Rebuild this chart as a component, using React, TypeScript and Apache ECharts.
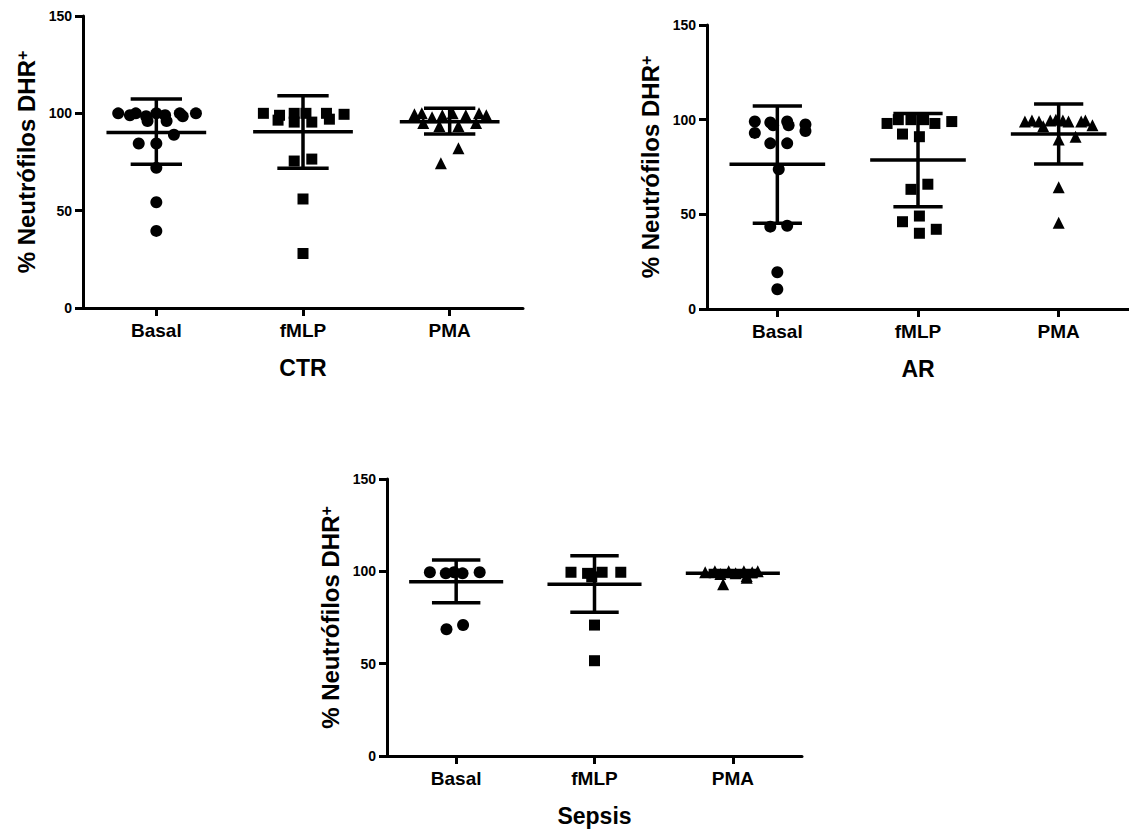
import React, { useEffect, useRef } from "react";
import * as echarts from "echarts";

// ---------- DATA ----------
const categories = ["Basal", "fMLP", "PMA"];
const yTicks = [0, 50, 100, 150];
const panelTitles = ["CTR", "AR", "Sepsis"];
const yAxisTitle = "% Neutrófilos DHR";

// CTR
const ctrBasalValues = [100, 99, 100, 98.5, 96, 100, 99, 96, 100, 98.5, 100, 89, 84.5, 84.5, 72, 54.3, 39.6];
const ctrBasalJitter = [-0.26, -0.18, -0.14, -0.07, -0.06, 0, 0.06, 0.07, 0.16, 0.18, 0.27, 0.12, -0.12, 0, 0, 0, 0];
const ctrFmlpValues = [100, 99, 96.5, 100, 95.5, 100, 95.5, 100, 97, 99.5, 75.5, 76.5, 56, 28];
const ctrFmlpJitter = [-0.27, -0.16, -0.17, -0.06, -0.06, 0.02, 0.06, 0.16, 0.18, 0.28, -0.06, 0.06, 0, 0];
const ctrPmaValues = [99.5, 100, 98, 99, 100, 99, 100, 99, 95, 93.5, 93.5, 95, 82, 74.3];
const ctrPmaJitter = [-0.24, -0.19, -0.12, -0.05, 0.02, 0.11, 0.2, 0.25, -0.18, -0.07, 0.06, 0.18, 0.06, -0.06];
const ctrMean = [90.2, 90.6, 95.7];
const ctrUpper = [107.4, 109, 102.6];
const ctrLower = [73.8, 71.8, 89.4];

// AR
const arBasalValues = [99, 98.5, 97, 99, 97, 97.5, 93, 94, 87.5, 87.5, 73.8, 43.5, 44, 19.4, 10.4];
const arBasalJitter = [-0.16, -0.05, -0.03, 0.07, 0.08, 0.2, -0.16, 0.2, -0.05, 0.07, 0.01, -0.05, 0.07, 0, 0];
const arFmlpValues = [98, 100, 100, 100, 98, 99, 92.4, 91, 63.2, 65.9, 46.1, 49.1, 42.1, 40];
const arFmlpJitter = [-0.22, -0.14, -0.05, 0.04, 0.12, 0.24, -0.11, 0.01, -0.05, 0.07, -0.11, 0.01, 0.13, 0.01];
const arPmaValues = [99, 99.5, 99, 96.5, 99.5, 100, 99.5, 99, 99, 99.5, 97, 89.5, 91, 64.3, 45.6];
const arPmaJitter = [-0.24, -0.19, -0.14, -0.11, -0.06, -0.02, 0.03, 0.07, 0.16, 0.19, 0.24, 0, 0.12, 0, 0];
const arMean = [76.4, 78.7, 92.4];
const arUpper = [107.2, 103.3, 108.3];
const arLower = [45.3, 54, 76.6];

// Sepsis
const sepBasalValues = [99.5, 98.9, 99.5, 98.9, 99.5, 68.6, 70.9];
const sepBasalJitter = [-0.19, -0.075, -0.015, 0.046, 0.17, -0.07, 0.05];
const sepFmlpValues = [99.5, 98.9, 97, 99.5, 99.5, 70.9, 51.6];
const sepFmlpJitter = [-0.17, -0.05, -0.02, 0.055, 0.19, 0, 0];
const sepPmaValues = [99.5, 100, 98.5, 100, 99, 100, 97.5, 99.5, 100, 93, 96.5];
const sepPmaJitter = [-0.2, -0.13, -0.09, -0.03, 0.02, 0.08, 0.1, 0.14, 0.18, -0.07, 0.1];
const sepMean = [94.4, 93, 98.9];
const sepUpper = [106.1, 108.5, 100.5];
const sepLower = [83, 77.8, 97.2];

// ---------- LAYOUT / STYLE ----------
const FONT = "'Liberation Sans', Arial, sans-serif";
const grids = [
  { left: 83, top: 16, width: 440, height: 292 },
  { left: 707, top: 25, width: 427, height: 284 },
  { left: 387, top: 479, width: 415, height: 277 },
];
const symbols = ["circle", "rect", "triangle"];
const symbolSizes = [12, 11, 12];

const panelData = [
  {
    values: [ctrBasalValues, ctrFmlpValues, ctrPmaValues],
    jitter: [ctrBasalJitter, ctrFmlpJitter, ctrPmaJitter],
    mean: ctrMean, upper: ctrUpper, lower: ctrLower,
  },
  {
    values: [arBasalValues, arFmlpValues, arPmaValues],
    jitter: [arBasalJitter, arFmlpJitter, arPmaJitter],
    mean: arMean, upper: arUpper, lower: arLower,
  },
  {
    values: [sepBasalValues, sepFmlpValues, sepPmaValues],
    jitter: [sepBasalJitter, sepFmlpJitter, sepPmaJitter],
    mean: sepMean, upper: sepUpper, lower: sepLower,
  },
];

function buildOption() {
  const xAxis: any[] = [];
  const yAxis: any[] = [];
  const series: any[] = [];
  const lineStyle = { stroke: "#000", lineWidth: 3.5 };

  panelData.forEach((p, pi) => {
    xAxis.push({
      type: "value",
      gridIndex: pi,
      min: -0.5,
      max: 2.5,
      name: panelTitles[pi],
      nameLocation: "middle",
      nameGap: 48,
      nameTextStyle: { fontFamily: FONT, fontWeight: "bold", fontSize: 23, color: "#000" },
      axisLine: { show: true, onZero: false, lineStyle: { color: "#000", width: 3 } },
      axisTick: { show: true, length: 8, customValues: [0, 1, 2], lineStyle: { color: "#000", width: 3 } },
      axisLabel: {
        customValues: [0, 1, 2],
        formatter: (v: number) => categories[Math.round(v)] ?? "",
        fontFamily: FONT,
        fontWeight: "bold",
        fontSize: 19,
        color: "#000",
        margin: 13,
      },
      splitLine: { show: false },
    });
    yAxis.push({
      type: "value",
      gridIndex: pi,
      min: yTicks[0],
      max: yTicks[yTicks.length - 1],
      interval: 50,
      name: yAxisTitle + "{sup|+}",
      nameLocation: "middle",
      nameGap: 45,
      nameRotate: 90,
      nameTextStyle: {
        fontFamily: FONT,
        fontWeight: "bold",
        fontSize: 24,
        color: "#000",
        rich: {
          sup: { fontFamily: FONT, fontWeight: "bold", fontSize: 16, color: "#000", verticalAlign: "top", padding: [0, 0, 8, 0] },
        },
      },
      axisLine: { show: true, onZero: false, lineStyle: { color: "#000", width: 3 } },
      axisTick: { show: true, length: 8, lineStyle: { color: "#000", width: 3 } },
      axisLabel: { fontFamily: FONT, fontWeight: "bold", fontSize: 14, color: "#000", margin: 11 },
      splitLine: { show: false },
    });

    p.values.forEach((vals, gi) => {
      series.push({
        type: "scatter",
        xAxisIndex: pi,
        yAxisIndex: pi,
        symbol: symbols[gi],
        symbolSize: symbolSizes[gi],
        itemStyle: { color: "#000", opacity: 1 },
        data: vals.map((v, i) => [gi + p.jitter[gi][i], v]),
        z: 2,
      });
    });

    series.push({
      type: "custom",
      xAxisIndex: pi,
      yAxisIndex: pi,
      z: 3,
      encode: { x: 0, y: [1, 2, 3] },
      data: categories.map((_, i) => [i, p.mean[i], p.lower[i], p.upper[i]]),
      renderItem: (params: any, api: any) => {
        const x = api.value(0);
        const pM = api.coord([x, api.value(1)]);
        const pLo = api.coord([x, api.value(2)]);
        const pHi = api.coord([x, api.value(3)]);
        const wM = api.size([0.34, 0])[0];
        const wC = api.size([0.175, 0])[0];
        return {
          type: "group",
          children: [
            { type: "line", shape: { x1: pHi[0], y1: pHi[1], x2: pLo[0], y2: pLo[1] }, style: lineStyle },
            { type: "line", shape: { x1: pM[0] - wM, y1: pM[1], x2: pM[0] + wM, y2: pM[1] }, style: lineStyle },
            { type: "line", shape: { x1: pHi[0] - wC, y1: pHi[1], x2: pHi[0] + wC, y2: pHi[1] }, style: lineStyle },
            { type: "line", shape: { x1: pLo[0] - wC, y1: pLo[1], x2: pLo[0] + wC, y2: pLo[1] }, style: lineStyle },
          ],
        };
      },
    });
  });

  return {
    animation: false,
    backgroundColor: "#fff",
    grid: grids.map((g) => ({ ...g, containLabel: false })),
    xAxis,
    yAxis,
    series,
  };
}

export default function App() {
  const ref = useRef<HTMLDivElement>(null);
  useEffect(() => {
    if (!ref.current) return;
    const chart = echarts.init(ref.current, undefined, { renderer: "svg" });
    chart.setOption(buildOption() as any);
    return () => chart.dispose();
  }, []);
  return (
    <div
      ref={ref}
      style={{ position: "absolute", left: 0, top: 0, width: 1129, height: 829, background: "#fff" }}
    />
  );
}
